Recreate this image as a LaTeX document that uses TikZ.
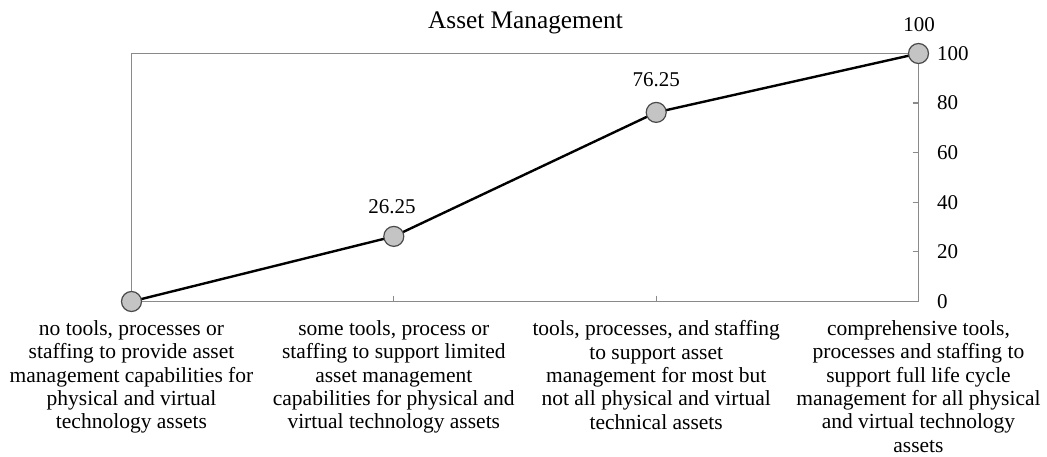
\documentclass[tikz,border=0pt]{standalone}
\usepackage{fontspec}
\setmainfont{Liberation Serif}
\definecolor{axisgray}{HTML}{8A8A8A}
\definecolor{dotfill}{HTML}{C4C4C4}
\definecolor{dotdraw}{HTML}{4A4A4A}
\begin{document}
\begin{tikzpicture}[x=1pt,y=-1pt,
  frame/.style={draw=axisgray, line width=1.3pt},
  tickmark/.style={draw=axisgray, line width=1.2pt},
  dataline/.style={draw=black, line width=2.4pt, line join=round},
  dot/.style={circle, draw=dotdraw, fill=dotfill, line width=1.2pt, minimum size=20pt, inner sep=0pt},
  ticklabel/.style={anchor=west, inner sep=0pt, font=\fontsize{21}{24}\selectfont},
  vallabel/.style={anchor=south, inner sep=0pt, font=\fontsize{21}{24}\selectfont},
  catlabel/.style={anchor=north, inner sep=0pt, align=center, font=\fontsize{21.5}{23.3}\selectfont},
  titlelabel/.style={anchor=base, inner sep=0pt, font=\fontsize{25.3}{28}\selectfont}]
\useasboundingbox (0,0) rectangle (1047,457);
\fill[white] (0,0) rectangle (1047,457);

% frame
\coordinate (tl) at (131.5,53.5);
\coordinate (br) at (918.5,301.5);
\draw[frame] (tl) rectangle (br);

% right axis ticks
\foreach \v/\y in {20/251.9,40/202.3,60/152.7,80/103.1}{
  \coordinate (rt\v) at (918.5,\y);
  \coordinate (rti\v) at (912.5,\y);
  \draw[tickmark] (rti\v) -- (rt\v);
}
\foreach \v/\y in {0/301.5,20/251.9,40/202.3,60/152.7,80/103.1,100/53.5}{
  \node[ticklabel] (tl\v) at (937,\y) {\v};
}

% bottom ticks
\coordinate (bt1) at (393.8,301.5);
\coordinate (bt1i) at (393.8,295.5);
\coordinate (bt2) at (656.2,301.5);
\coordinate (bt2i) at (656.2,295.5);
\draw[tickmark] (bt1i) -- (bt1);
\draw[tickmark] (bt2i) -- (bt2);

% data
\coordinate (c0) at (131.5,301.5);
\coordinate (c1) at (393.8,236.4);
\coordinate (c2) at (656.2,112.4);
\coordinate (c3) at (918.5,53.5);
\draw[dataline] (c0) -- (c1) -- (c2) -- (c3);
\node[dot] (p0) at (c0) {};
\node[dot] (p1) at (c1) {};
\node[dot] (p2) at (c2) {};
\node[dot] (p3) at (c3) {};

% value labels
\node[vallabel] (v1) at (392,214) {26.25};
\node[vallabel] (v2) at (656.2,87) {76.25};
\node[vallabel] (v3) at (919,32) {100};

% title
\node[titlelabel] (title) at (525.5,29) {Asset Management};

% category labels
\node[catlabel] (k0) at (131.5,320.5) {no tools, processes or\\staffing to provide asset\\management capabilities for\\physical and virtual\\technology assets};
\node[catlabel] (k1) at (393.8,320.5) {some tools, process or\\staffing to support limited\\asset management\\capabilities for physical and\\virtual technology assets};
\node[catlabel] (k2) at (656.2,320.5) {tools, processes, and staffing\\to support asset\\management for most but\\not all physical and virtual\\technical assets};
\node[catlabel] (k3) at (918.5,320.5) {comprehensive tools,\\processes and staffing to\\support full life cycle\\management for all physical\\and virtual technology\\assets};
\end{tikzpicture}
\end{document}
